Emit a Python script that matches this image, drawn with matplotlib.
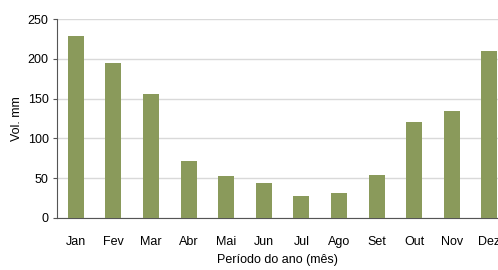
import numpy as np
import matplotlib
matplotlib.use("Agg")
import matplotlib.pyplot as plt

plt.rcParams['font.family'] = ['Liberation Sans', 'DejaVu Sans']

meses = ['Jan', 'Fev', 'Mar', 'Abr', 'Mai', 'Jun', 'Jul', 'Ago', 'Set', 'Out', 'Nov', 'Dez']
volume = [229, 195, 156, 72, 53, 44, 28, 31, 54, 121, 134, 210]
yticks = [0, 50, 100, 150, 200, 250]

W, H = 498, 270
fig = plt.figure(figsize=(W / 100, H / 100), dpi=100)
ax = fig.add_axes([57 / W, 52 / H, (W - 57) / W, (218 - 19) / H])

x = np.arange(len(meses))
ax.bar(x, volume, width=0.43, color='#8a9a5b', zorder=3)

ax.set_ylim(0, 250)
ax.set_yticks(yticks)
ax.set_xticks(x)
ax.set_xticklabels(meses)
band = (W - 57) / 37.6
ax.set_xlim(-0.5, -0.5 + band)

ax.grid(axis='y', color='#d9d9d9', linewidth=1, zorder=0)
for s in ['top', 'right']:
    ax.spines[s].set_visible(False)
ax.spines['left'].set_color('#555555')
ax.spines['bottom'].set_color('#555555')
ax.tick_params(axis='x', length=0, pad=13, labelsize=9)
ax.tick_params(axis='y', length=3, color='#555555', labelsize=9, pad=3)

ax.set_ylabel('Vol. mm', fontsize=9, labelpad=3)
ax.set_xlabel('Período do ano (mês)', fontsize=9, labelpad=4)

fig.savefig('out.png', dpi=100)
